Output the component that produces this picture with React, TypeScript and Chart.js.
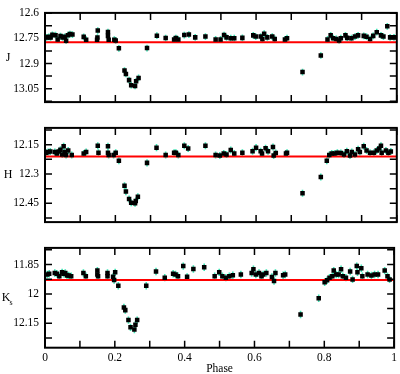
import React, { useEffect, useRef } from 'react';
import { Chart, registerables } from 'chart.js';

Chart.register(...registerables);

const FONT = "'Liberation Serif', 'Times New Roman', Times, serif";

const xMajorTicks = [0, 0.2, 0.4, 0.6, 0.8, 1];
const xMinorTicks = [0.1, 0.3, 0.5, 0.7, 0.9];

// ---- J band ----
const jPhase = [0.005, 0.011, 0.016, 0.021, 0.030, 0.036, 0.044, 0.050, 0.056, 0.060, 0.065, 0.071, 0.078, 0.110, 0.117, 0.150, 0.149, 0.148, 0.179, 0.179, 0.181, 0.197, 0.201, 0.210, 0.226, 0.230, 0.239, 0.245, 0.256, 0.259, 0.266, 0.290, 0.318, 0.343, 0.367, 0.372, 0.379, 0.396, 0.409, 0.427, 0.456, 0.485, 0.499, 0.509, 0.516, 0.528, 0.538, 0.561, 0.592, 0.599, 0.613, 0.618, 0.623, 0.632, 0.646, 0.653, 0.682, 0.688, 0.732, 0.784, 0.803, 0.812, 0.819, 0.828, 0.836, 0.841, 0.854, 0.859, 0.871, 0.881, 0.890, 0.906, 0.914, 0.924, 0.933, 0.943, 0.955, 0.962, 0.973, 0.981, 0.992];
const jMag = [12.744, 12.741, 12.744, 12.729, 12.731, 12.756, 12.736, 12.744, 12.741, 12.764, 12.731, 12.724, 12.727, 12.741, 12.758, 12.703, 12.745, 12.758, 12.712, 12.735, 12.758, 12.758, 12.762, 12.809, 12.942, 12.962, 12.999, 13.029, 13.034, 13.006, 12.986, 12.808, 12.734, 12.748, 12.756, 12.748, 12.756, 12.730, 12.727, 12.744, 12.739, 12.756, 12.756, 12.730, 12.744, 12.749, 12.749, 12.747, 12.732, 12.739, 12.739, 12.753, 12.722, 12.744, 12.739, 12.753, 12.756, 12.749, 12.951, 12.852, 12.756, 12.732, 12.749, 12.753, 12.762, 12.749, 12.732, 12.747, 12.749, 12.739, 12.732, 12.735, 12.740, 12.753, 12.735, 12.713, 12.732, 12.739, 12.678, 12.744, 12.744];
const jTicks = [12.6, 12.75, 12.9, 13.05];
const jMinor = [12.675, 12.825, 12.975, 13.125];
const jRange = [12.598, 13.13];
const jLevel = 12.773;

// ---- H band ----
const hPhase = [0.003, 0.009, 0.015, 0.028, 0.034, 0.039, 0.044, 0.049, 0.053, 0.056, 0.060, 0.066, 0.076, 0.110, 0.117, 0.150, 0.152, 0.179, 0.179, 0.181, 0.195, 0.201, 0.210, 0.226, 0.230, 0.239, 0.245, 0.256, 0.258, 0.264, 0.290, 0.317, 0.343, 0.367, 0.372, 0.379, 0.396, 0.407, 0.456, 0.485, 0.497, 0.508, 0.516, 0.528, 0.538, 0.561, 0.590, 0.600, 0.613, 0.617, 0.627, 0.634, 0.648, 0.650, 0.656, 0.685, 0.688, 0.732, 0.784, 0.801, 0.808, 0.815, 0.823, 0.831, 0.841, 0.850, 0.858, 0.867, 0.872, 0.881, 0.890, 0.895, 0.906, 0.914, 0.924, 0.935, 0.943, 0.950, 0.955, 0.957, 0.969, 0.976, 0.983];
const hMag = [12.191, 12.187, 12.185, 12.187, 12.195, 12.185, 12.176, 12.200, 12.158, 12.187, 12.203, 12.180, 12.203, 12.195, 12.187, 12.155, 12.191, 12.158, 12.191, 12.203, 12.203, 12.191, 12.232, 12.360, 12.390, 12.428, 12.447, 12.450, 12.438, 12.416, 12.243, 12.165, 12.203, 12.191, 12.191, 12.203, 12.155, 12.169, 12.155, 12.203, 12.205, 12.195, 12.200, 12.177, 12.195, 12.191, 12.183, 12.165, 12.183, 12.195, 12.168, 12.183, 12.162, 12.205, 12.192, 12.195, 12.191, 12.398, 12.315, 12.232, 12.203, 12.195, 12.195, 12.191, 12.192, 12.200, 12.183, 12.205, 12.187, 12.200, 12.173, 12.187, 12.158, 12.180, 12.191, 12.191, 12.180, 12.169, 12.155, 12.191, 12.180, 12.191, 12.185];
const hTicks = [12.15, 12.3, 12.45];
const hMinor = [12.075, 12.225, 12.375, 12.525];
const hRange = [12.064, 12.546];
const hLevel = 12.21;

// ---- Ks band ----
const kPhase = [0.006, 0.012, 0.028, 0.034, 0.041, 0.049, 0.053, 0.058, 0.063, 0.068, 0.075, 0.110, 0.117, 0.150, 0.150, 0.152, 0.179, 0.179, 0.195, 0.198, 0.201, 0.210, 0.226, 0.230, 0.239, 0.245, 0.256, 0.259, 0.264, 0.290, 0.318, 0.343, 0.367, 0.374, 0.381, 0.396, 0.407, 0.425, 0.456, 0.486, 0.499, 0.508, 0.518, 0.528, 0.538, 0.561, 0.592, 0.597, 0.604, 0.613, 0.620, 0.625, 0.634, 0.650, 0.656, 0.660, 0.682, 0.688, 0.732, 0.784, 0.801, 0.808, 0.815, 0.823, 0.827, 0.834, 0.841, 0.848, 0.853, 0.862, 0.874, 0.881, 0.893, 0.895, 0.906, 0.909, 0.924, 0.935, 0.944, 0.954, 0.973, 0.981, 0.987];
const kMag = [11.901, 11.897, 11.893, 11.897, 11.910, 11.890, 11.897, 11.893, 11.906, 11.906, 11.910, 11.893, 11.910, 11.881, 11.901, 11.910, 11.893, 11.910, 11.913, 11.929, 11.890, 11.958, 12.070, 12.083, 12.134, 12.171, 12.182, 12.158, 12.134, 11.958, 11.886, 11.917, 11.897, 11.901, 11.910, 11.858, 11.913, 11.873, 11.864, 11.910, 11.890, 11.910, 11.917, 11.910, 11.905, 11.901, 11.893, 11.874, 11.901, 11.893, 11.910, 11.901, 11.893, 11.914, 11.934, 11.893, 11.905, 11.901, 12.105, 12.022, 11.941, 11.930, 11.917, 11.910, 11.881, 11.901, 11.901, 11.874, 11.910, 11.917, 11.886, 11.926, 11.858, 11.890, 11.869, 11.910, 11.901, 11.906, 11.901, 11.901, 11.881, 11.910, 11.926];
const kTicks = [11.85, 12, 12.15];
const kMinor = [11.775, 11.925, 12.075, 12.225];
const kRange = [11.765, 12.275];
const kLevel = 11.929;

type PanelCfg = {
  top: number;
  height: number;
  padTop: number;
  padBottom: number;
  showX: boolean;
  title: string;
  sub?: string;
  phase: number[];
  mag: number[];
  ticks: number[];
  minor: number[];
  range: number[];
  level: number;
  err: number;
};

const fmt = (v: any) => String(Math.round(Number(v) * 100) / 100);

function makePlugin(cfg: PanelCfg) {
  return {
    id: 'panelDecor',
    beforeDatasetsDraw(chart: any) {
      const { ctx, chartArea: a, scales } = chart;
      const x = scales.x;
      const y = scales.y;
      ctx.save();
      ctx.beginPath();
      ctx.rect(a.left, a.top, a.right - a.left, a.bottom - a.top);
      ctx.clip();
      ctx.strokeStyle = '#3fe3b4';
      ctx.lineWidth = 1.6;
      cfg.phase.forEach((p, i) => {
        const px = x.getPixelForValue(p);
        const y1 = y.getPixelForValue(cfg.mag[i] - cfg.err);
        const y2 = y.getPixelForValue(cfg.mag[i] + cfg.err);
        ctx.beginPath();
        ctx.moveTo(px, y1);
        ctx.lineTo(px, y2);
        ctx.stroke();
      });
      ctx.restore();
    },
    afterDraw(chart: any) {
      const { ctx, chartArea: a, scales } = chart;
      const x = scales.x;
      const y = scales.y;
      const TL = 7;
      ctx.save();
      ctx.strokeStyle = '#000';
      ctx.lineWidth = 1.5;
      const xs = [...xMajorTicks, ...xMinorTicks];
      xs.forEach((v) => {
        const px = x.getPixelForValue(v);
        ctx.beginPath();
        ctx.moveTo(px, a.bottom);
        ctx.lineTo(px, a.bottom - TL);
        ctx.moveTo(px, a.top);
        ctx.lineTo(px, a.top + TL);
        ctx.stroke();
      });
      const ys = [...cfg.ticks, ...cfg.minor];
      ys.forEach((v) => {
        const py = y.getPixelForValue(v);
        if (py < a.top - 0.5 || py > a.bottom + 0.5) return;
        ctx.beginPath();
        ctx.moveTo(a.left, py);
        ctx.lineTo(a.left + TL, py);
        ctx.moveTo(a.right, py);
        ctx.lineTo(a.right - TL, py);
        ctx.stroke();
      });
      ctx.lineWidth = 2;
      ctx.strokeRect(a.left, a.top, a.right - a.left, a.bottom - a.top);
      // axis title
      const cy = (a.top + a.bottom) / 2;
      ctx.fillStyle = '#000';
      ctx.textBaseline = 'middle';
      ctx.textAlign = 'center';
      ctx.font = `12px ${FONT}`;
      if (cfg.sub) {
        ctx.fillText(cfg.title, 6, cy);
        ctx.font = `8px ${FONT}`;
        ctx.fillText(cfg.sub, 11, cy + 5);
      } else {
        ctx.fillText(cfg.title, 8, cy);
      }
      ctx.restore();
    },
  };
}

function Panel(cfg: PanelCfg) {
  const ref = useRef<HTMLCanvasElement | null>(null);
  useEffect(() => {
    if (!ref.current) return;
    const chart = new Chart(ref.current, {
      type: 'scatter',
      data: {
        datasets: [
          {
            type: 'scatter',
            data: cfg.phase.map((p, i) => ({ x: p, y: cfg.mag[i] })),
            pointStyle: 'rect',
            pointRadius: 3.2,
            pointHoverRadius: 3.2,
            pointBackgroundColor: '#000',
            pointBorderColor: '#000',
            pointBorderWidth: 0,
          } as any,
          {
            type: 'line',
            data: [
              { x: 0, y: cfg.level },
              { x: 1, y: cfg.level },
            ],
            borderColor: '#ff0000',
            borderWidth: 2,
            pointRadius: 0,
            fill: false,
            showLine: true,
          } as any,
        ],
      },
      options: {
        animation: false,
        responsive: false,
        devicePixelRatio: 1,
        events: [],
        layout: { padding: { top: cfg.padTop, bottom: cfg.padBottom, left: 0, right: 3 } },
        plugins: { legend: { display: false }, tooltip: { enabled: false } },
        scales: {
          x: {
            type: 'linear',
            min: 0,
            max: 1,
            display: cfg.showX,
            grid: { display: false, drawTicks: false },
            border: { display: false },
            afterBuildTicks: (s: any) => {
              s.ticks = xMajorTicks.map((v) => ({ value: v }));
            },
            afterFit: (s: any) => {
              if (cfg.showX) s.height = 26.3;
            },
            ticks: {
              padding: 3,
              color: '#000',
              autoSkip: false,
              maxRotation: 0,
              font: { family: FONT, size: 11.5 },
              callback: fmt,
            },
            title: {
              display: cfg.showX,
              text: 'Phase',
              color: '#000',
              font: { family: FONT, size: 11.5 },
              padding: { top: 0, bottom: -2 },
            },
          },
          y: {
            type: 'linear',
            reverse: true,
            min: cfg.range[0],
            max: cfg.range[1],
            grid: { display: false, drawTicks: false },
            border: { display: false },
            afterBuildTicks: (s: any) => {
              s.ticks = cfg.ticks.map((v) => ({ value: v }));
            },
            afterFit: (s: any) => {
              s.width = 45;
            },
            ticks: {
              padding: 6,
              color: '#000',
              autoSkip: false,
              font: { family: FONT, size: 11.5 },
              callback: fmt,
            },
          },
        },
      } as any,
      plugins: [makePlugin(cfg)],
    });
    return () => chart.destroy();
  }, []);
  return (
    <div style={{ position: 'absolute', left: 0, top: cfg.top, width: 400, height: cfg.height }}>
      <canvas ref={ref} width={400} height={cfg.height} style={{ display: 'block' }} />
    </div>
  );
}

export default function App() {
  return (
    <div
      style={{
        position: 'fixed',
        left: 0,
        top: 0,
        width: 400,
        height: 374,
        background: '#fff',
        overflow: 'hidden',
      }}
    >
      <Panel
        top={0}
        height={115}
        padTop={5.5}
        padBottom={7}
        showX={false}
        title="J"
        phase={jPhase}
        mag={jMag}
        ticks={jTicks}
        minor={jMinor}
        range={jRange}
        level={jLevel}
        err={0.02}
      />
      <Panel
        top={115}
        height={120}
        padTop={6}
        padBottom={7}
        showX={false}
        title="H"
        phase={hPhase}
        mag={hMag}
        ticks={hTicks}
        minor={hMinor}
        range={hRange}
        level={hLevel}
        err={0.018}
      />
      <Panel
        top={235}
        height={139}
        padTop={6.7}
        padBottom={0}
        showX={true}
        title="K"
        sub="s"
        phase={kPhase}
        mag={kMag}
        ticks={kTicks}
        minor={kMinor}
        range={kRange}
        level={kLevel}
        err={0.019}
      />
    </div>
  );
}
